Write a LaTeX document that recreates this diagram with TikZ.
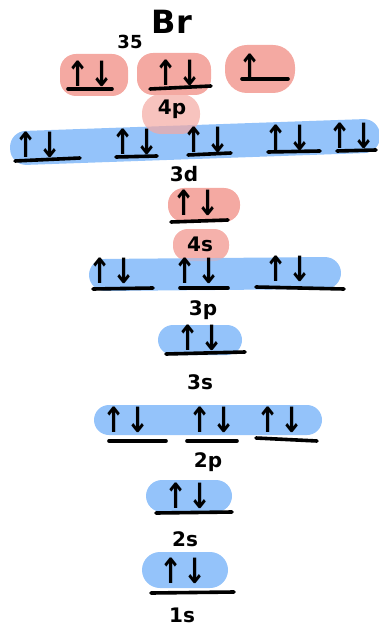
\documentclass[tikz,border=0pt]{standalone}
\usepackage{fontspec}
\setmainfont{DejaVu Sans}
\newfontfamily\dvb{DejaVu Sans}
\definecolor{pinkc}{HTML}{F4A9A2}
\definecolor{bluec}{HTML}{94C3FA}
\begin{document}
\begin{tikzpicture}[x=1pt,y=-1pt,
  pinkblob/.style={fill=pinkc,draw=none,rounded corners=16pt,inner sep=0pt},
  blueband/.style={fill=bluec,draw=none,rounded corners=16pt,inner sep=0pt},
  elec/.style={font=\dvb\bfseries\fontsize{24}{24}\selectfont,inner sep=0pt,xscale=1.15,yscale=1.45},
  ol/.style={line width=3.6pt,line cap=round},
  lbl/.style={font=\bfseries\fontsize{20}{20}\selectfont,inner sep=0pt}]
\useasboundingbox (0,0) rectangle (378,628);
% backgrounds
\node[pinkblob,minimum width=68pt,minimum height=42pt] (b4p1) at (94,75) {};
\node[pinkblob,minimum width=74pt,minimum height=42pt] (b4p2) at (174,74) {};
\node[pinkblob,minimum width=70pt,minimum height=48pt,rounded corners=22pt] (b4p3) at (260,69) {};
\node[blueband,minimum width=370pt,minimum height=34pt,rotate=2] (b3d) at (195,142) {};
\node[pinkblob,minimum width=58pt,minimum height=40pt,opacity=0.7,rounded corners=19pt] (b4pl) at (171,114) {};
\node[pinkblob,minimum width=72pt,minimum height=34pt] (b3dx) at (204,205) {};
\node[pinkblob,minimum width=56pt,minimum height=32pt,opacity=0.85,rounded corners=15pt] (b4sl) at (201,245) {};
\node[blueband,minimum width=252pt,minimum height=32pt,rotate=0.5] (b3p) at (215,274) {};
\node[pinkblob,minimum width=56pt,minimum height=32pt,opacity=0.35,rounded corners=15pt] (b4sl2) at (201,245) {};
\node[blueband,minimum width=84pt,minimum height=30pt,rounded corners=15pt] (b3s) at (200,340) {};
\node[blueband,minimum width=228pt,minimum height=30pt,rounded corners=15pt] (b2p) at (208,420) {};
\node[blueband,minimum width=86pt,minimum height=32pt] (b2s) at (189,496) {};
\node[blueband,minimum width=86pt,minimum height=36pt,rounded corners=18pt] (b1s) at (185,570) {};
% title
\node[font=\bfseries\fontsize{18}{18}\selectfont,inner sep=0pt] (z) at (130,42) {35};
\node[font=\bfseries\fontsize{32}{32}\selectfont,inner sep=0pt] (br) at (172,22) {Br};
% 4p
\node[elec] (e4p1) at (90,74) {↑↓};
\node[elec] (e4p2) at (178,73) {↑↓};
\node[elec] (e4p3) at (250,67) {↑};
\draw[ol] (68,89) -- (112,89);
\draw[ol] (150,89) -- (211,86);
\draw[ol] (242,79) -- (288,79);
\node[lbl] (l4p) at (172,109) {4p};
% 3d
\node[elec] (e3d1) at (38,145) {↑↓};
\node[elec] (e3d2) at (135,142) {↑↓};
\node[elec] (e3d3) at (206,140) {↑↓};
\node[elec] (e3d4) at (288,138) {↑↓};
\node[elec] (e3d5) at (352,136) {↑↓};
\draw[ol] (15,161) -- (80,158);
\draw[ol] (116,157) -- (157,156);
\draw[ol] (188,155) -- (231,153);
\draw[ol] (268,152) -- (320,151);
\draw[ol] (337,151) -- (376,150);
\node[lbl] (l3d) at (184,174) {3d};
% 4s
\node[elec] (e4s) at (196,203) {↑↓};
\draw[ol] (171,222) -- (228,220);
\node[lbl] (l4s) at (200,244) {4s};
% 3p
\node[elec] (e3p1) at (112,271) {↑↓};
\node[elec] (e3p2) at (197,271) {↑↓};
\node[elec] (e3p3) at (288,269) {↑↓};
\draw[ol] (93,289) -- (153,288);
\draw[ol] (180,288) -- (228,288);
\draw[ol] (256,287) -- (344,289);
\node[lbl] (l3p) at (203,310) {3p};
% 3s
\node[elec] (e3s) at (200,338) {↑↓};
\draw[ol] (166,354) -- (245,352);
\node[lbl] (l3s) at (200,382) {3s};
% 2p
\node[elec] (e2p1) at (126,420) {↑↓};
\node[elec] (e2p2) at (212,420) {↑↓};
\node[elec] (e2p3) at (280,420) {↑↓};
\draw[ol] (109,441) -- (166,441);
\draw[ol] (187,441) -- (237,441);
\draw[ol] (256,438) -- (317,441);
\node[lbl] (l2p) at (208,462) {2p};
% 2s
\node[elec] (e2s) at (188,496) {↑↓};
\draw[ol] (156,513) -- (232,512);
\node[lbl] (l2s) at (185,539) {2s};
% 1s
\node[elec] (e1s) at (183,571) {↑↓};
\draw[ol] (151,593) -- (234,592);
\node[lbl] (l1s) at (182,615) {1s};
\end{tikzpicture}
\end{document}
